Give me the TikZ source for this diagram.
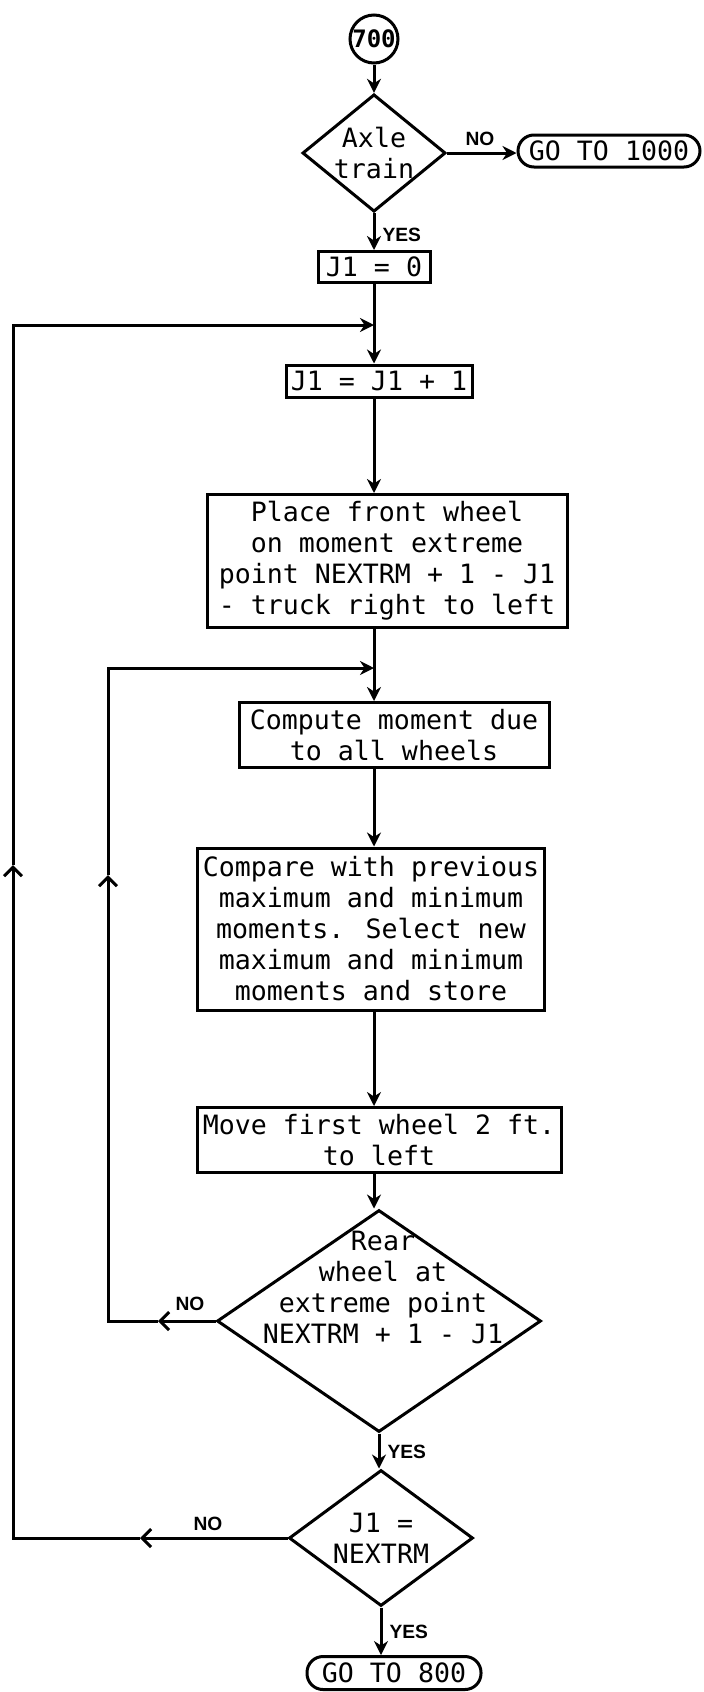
\documentclass[tikz,border=0pt]{standalone}
\usepackage{fontspec}
\newfontfamily\flowfont{DejaVu Sans Mono}
\newfontfamily\tagfont{Liberation Sans}
\usetikzlibrary{shapes.geometric,arrows.meta}
\newcommand{\boxtext}{\flowfont\fontsize{13.3pt}{15.5pt}\selectfont}
\newcommand{\tagtext}{\tagfont\bfseries\fontsize{9.6pt}{11pt}\selectfont}

\begin{document}
\begin{tikzpicture}[x=0.5pt,y=0.5pt,line width=1.5pt,
	proc/.style={draw,rectangle,font=\boxtext,align=center,inner sep=1pt},
	dec/.style={draw,diamond,font=\boxtext,align=center,inner sep=0pt},
	goto/.style={draw,rectangle,rounded corners=8pt,font=\boxtext,inner sep=1pt},
	tag/.style={font=\tagtext,inner sep=0pt},
	arr/.style={-{Stealth[length=7pt,width=7pt]}},
	back/.style={-{Straight Barb[length=4.5pt,width=9pt]}}]
	\useasboundingbox (0,0) rectangle (703,-1692);
	\coordinate (ax) at (374,0);
	% Start and axle test
	\node[draw,circle,minimum size=24pt,inner sep=0pt,font=\flowfont\bfseries\fontsize{12pt}{12pt}\selectfont] (start) at (374,-39) {700};
	\node[dec,shape aspect=1.22,minimum width=71.5pt,minimum height=58.5pt] (axle) at (374,-153) {Axle\\train};
	\node[goto,minimum width=91pt,minimum height=16pt] (go1000) at (609,-151) {GO TO 1000};
	% Main column
	\node[proc,minimum width=56pt,minimum height=15.5pt] (init) at (374,-267) {J1 = 0};
	\node[proc,minimum width=93pt,minimum height=16pt] (count) at (379,-381) {J1 = J1 + 1};
	\node[proc,minimum width=180pt,minimum height=66.5pt] (place) at (387,-561) {Place front wheel\\on moment extreme\\point NEXTRM + 1 - J1\\- truck right to left};
	\node[proc,minimum width=155pt,minimum height=32.5pt] (comp) at (394,-735) {Compute moment due\\to all wheels};
	\node[proc,minimum width=173.5pt,minimum height=81pt] (cmpr) at (371,-929) {Compare with previous\\maximum and minimum\\moments. Select new\\maximum and minimum\\moments and store};
	\node[proc,minimum width=182pt,minimum height=32.5pt] (move) at (379,-1140) {Move first wheel 2 ft.\\to left};
	% Tests at the bottom
	\node[dec,minimum width=162pt,minimum height=111pt] (rear) at (379,-1321) {};
	\node[font=\boxtext,align=center] (reartext) at (383,-1287) {Rear\\wheel at\\extreme point\\NEXTRM + 1 - J1};
	\node[dec,shape aspect=1.35,minimum width=92pt,minimum height=68pt] (last) at (381,-1538) {J1 =\\NEXTRM};
	\node[goto,minimum width=87pt,minimum height=16.5pt] (go800) at (394,-1673) {GO TO 800};
	% Flow
	\draw[arr] (start) -- (axle);
	\draw[arr] (axle.east) -- (axle.east -| go1000.west);
	\draw[arr] (axle) -- (init);
	\draw[arr] (init.south -| ax) -- (count.north -| ax);
	\draw[arr] (count.south -| ax) -- (place.north -| ax);
	\draw[arr] (place.south -| ax) -- (comp.north -| ax);
	\draw[arr] (comp.south -| ax) -- (cmpr.north -| ax);
	\draw[arr] (cmpr.south -| ax) -- (move.north -| ax);
	\draw[arr] (move.south -| ax) -- (rear.north -| ax);
	\draw[arr] (rear.south) -- (rear.south |- last.north);
	\draw[arr] (last.south) -- (last.south |- go800.north);
	% Loop back to J1 = J1 + 1
	\coordinate (lp1t) at (140,-1538);
	\coordinate (lp1a) at (13,-1538);
	\coordinate (lp1u) at (13,-865);
	\coordinate (lp1b) at (13,-325);
	\coordinate (lp1c) at (374,-325);
	\draw[back] (last.west) -- (lp1t);
	\draw[back] (lp1t) -- (lp1a) -- (lp1u);
	\draw[arr] (lp1u) -- (lp1b) -- (lp1c);
	% Loop back to compute
	\coordinate (lp2t) at (158,-1321);
	\coordinate (lp2a) at (108,-1321);
	\coordinate (lp2u) at (108,-875);
	\coordinate (lp2b) at (108,-668);
	\coordinate (lp2c) at (374,-668);
	\draw[back] (rear.west) -- (lp2t);
	\draw[back] (lp2t) -- (lp2a) -- (lp2u);
	\draw[arr] (lp2u) -- (lp2b) -- (lp2c);
	% YES / NO
	\node[tag] (no1) at (480,-139) {NO};
	\node[tag,anchor=west] (yes1) at (381,-235) {YES};
	\node[tag] (no2) at (190,-1304) {NO};
	\node[tag,anchor=west] (yes2) at (386,-1452) {YES};
	\node[tag] (no3) at (208,-1524) {NO};
	\node[tag,anchor=west] (yes3) at (388,-1632) {YES};
\end{tikzpicture}
\end{document}
